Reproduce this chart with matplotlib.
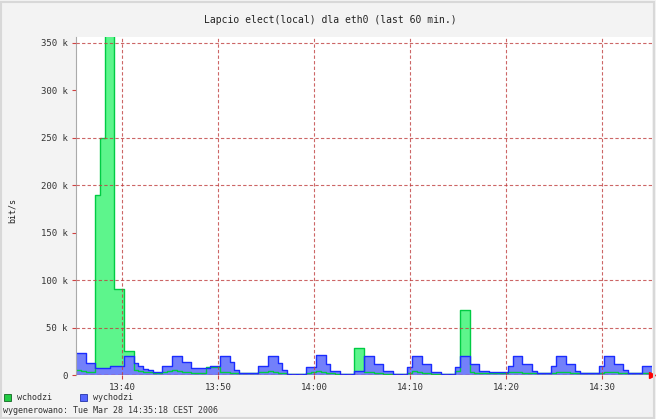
import numpy as np
import matplotlib.pyplot as plt
from matplotlib.patches import Rectangle

# 30 s samples starting 13:35:12, values in kbit/s
start_min = 35.2
step_min = 0.5
traffic_in = [5, 4, 3, 3, 190, 250, 400, 400, 91, 91,
              25, 25, 5, 4, 3, 3, 2, 2, 3, 4,
              5, 4, 3, 3, 2, 2, 2, 8, 8, 8,
              3, 3, 2, 2, 2, 2, 2, 2, 3, 3,
              4, 3, 2, 2, 1, 1, 1, 1, 2, 3,
              4, 3, 2, 2, 1, 1, 1, 1, 28, 28,
              3, 3, 2, 2, 1, 1, 1, 1, 1, 2,
              4, 3, 2, 2, 1, 1, 1, 1, 1, 4,
              68, 68, 3, 2, 2, 2, 2, 2, 2, 2,
              3, 3, 3, 2, 2, 2, 2, 2, 2, 2,
              3, 3, 3, 2, 2, 2, 2, 2, 2, 2,
              3, 3, 3, 2, 2, 2, 2, 2, 2, 2]
traffic_out = [23, 23, 13, 13, 7, 7, 7, 9, 9, 9,
               20, 20, 13, 10, 6, 5, 3, 3, 9, 9,
               20, 20, 14, 14, 7, 7, 7, 7, 9, 9,
               20, 20, 14, 5, 2, 2, 2, 2, 9, 9,
               20, 20, 13, 5, 1, 1, 1, 1, 8, 8,
               21, 21, 12, 4, 4, 1, 1, 1, 4, 4,
               20, 20, 12, 12, 4, 4, 1, 1, 1, 8,
               20, 20, 12, 12, 3, 3, 1, 1, 1, 8,
               20, 20, 12, 12, 4, 4, 3, 3, 3, 3,
               9, 20, 20, 12, 12, 4, 2, 2, 2, 9,
               20, 20, 12, 12, 4, 2, 2, 2, 2, 9,
               20, 20, 12, 12, 5, 2, 2, 2, 9, 9]

y_ticks = [0, 50, 100, 150, 200, 250, 300, 350]
y_labels = ["0", "50 k", "100 k", "150 k", "200 k", "250 k", "300 k", "350 k"]
y_grid = [50, 100, 200, 250, 350]
x_ticks = [40, 50, 60, 70, 80, 90]
x_labels = ["13:40", "13:50", "14:00", "14:10", "14:20", "14:30"]

n = len(traffic_in)
t = start_min + step_min * np.arange(n + 1)
vin = np.append(traffic_in, traffic_in[-1])
vout = np.append(traffic_out, traffic_out[-1])

fig = plt.figure(figsize=(6.56, 4.19), dpi=100, facecolor='#f3f3f3')
ax = fig.add_axes([76/656, 1-375/419, 576/656, 338/419])
ax.set_facecolor('white')

ax.fill_between(t, 0, vin, step='post', color='#5df58c', lw=0)
ax.fill_between(t, 0, vout, step='post', color='#7380fa', lw=0)
ax.step(t, vin, where='post', color='#00cc44', lw=1.0)
ax.step(t, vout, where='post', color='#1a2cff', lw=1.0)

for g in y_grid:
    ax.axhline(g, color='#c04040', lw=0.8, ls=(0, (3, 2)), alpha=0.8, zorder=3)
for g in x_ticks:
    ax.axvline(g, color='#c04040', lw=0.8, ls=(0, (3, 2)), alpha=0.8, zorder=3)
ax.axhline(0, color='#d04040', lw=1.0, ls=(0, (3, 2)), zorder=4)

ax.set_xlim(start_min, start_min + 60)
ax.set_ylim(0, 356.3)
ax.set_xticks(x_ticks)
ax.set_xticklabels(x_labels)
ax.set_yticks(y_ticks)
ax.set_yticklabels(y_labels)
ax.tick_params(length=3, width=0.8, color='#d04040', labelsize=6.5, pad=3)
for lab in ax.get_xticklabels() + ax.get_yticklabels():
    lab.set_family('DejaVu Sans Mono')
    lab.set_color('#333333')
for s in ['top', 'right']:
    ax.spines[s].set_visible(False)
ax.spines['left'].set_color('#aaaaaa')
ax.spines['bottom'].set_visible(False)
ax.plot([start_min + 60], [0], marker='>', color='red', ms=4, clip_on=False, zorder=5)

fig.text(330/656, 1-20/419, "Lapcio elect(local) dla eth0 (last 60 min.)",
         ha='center', va='center', fontsize=7, family='DejaVu Sans Mono', color='#222222')
fig.text(12/656, 1-210/419, "bit/s", rotation=90, ha='center', va='center',
         fontsize=6, family='DejaVu Sans Mono', color='#222222')

fig.patches.append(Rectangle((4/656, 1-401/419), 7/656, 7/419, transform=fig.transFigure,
                             facecolor='#22cc44', edgecolor='#116622', lw=0.6))
fig.text(17/656, 1-397/419, "wchodzi", ha='left', va='center', fontsize=6,
         family='DejaVu Sans Mono', color='#333333')
fig.patches.append(Rectangle((80/656, 1-401/419), 7/656, 7/419, transform=fig.transFigure,
                             facecolor='#5566ff', edgecolor='#2233aa', lw=0.6))
fig.text(93/656, 1-397/419, "wychodzi", ha='left', va='center', fontsize=6,
         family='DejaVu Sans Mono', color='#333333')
fig.text(3/656, 1-410/419, "wygenerowano: Tue Mar 28 14:35:18 CEST 2006", ha='left',
         va='center', fontsize=6, family='DejaVu Sans Mono', color='#333333')

fig.patches.append(Rectangle((1/656, 1/419), 653/656, 416/419, transform=fig.transFigure,
                             fill=False, edgecolor='#d8d8d8', lw=1.5))

fig.savefig('out.png', dpi=100, facecolor=fig.get_facecolor())
